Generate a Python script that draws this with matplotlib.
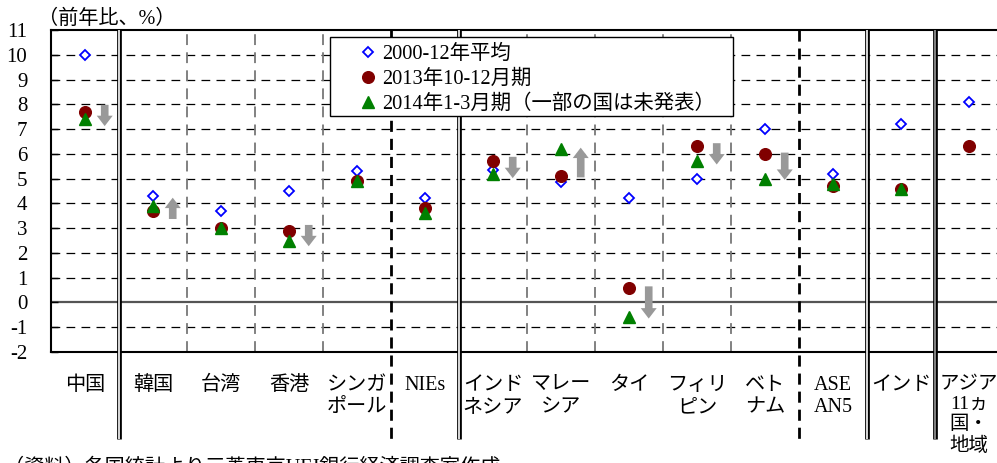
import matplotlib
matplotlib.use('Agg')
import matplotlib.pyplot as plt
from matplotlib.patches import Rectangle
import numpy as np

plt.rcParams['font.family'] = ['Liberation Serif', 'Noto Sans CJK JP']
plt.rcParams['axes.unicode_minus'] = False

categories = ['中国', '韓国', '台湾', '香港', 'シンガ\nポール', 'NIEs',
              'インド\nネシア', 'マレー\nシア', 'タイ', 'フィリ\nピン',
              'ベト\nナム', 'ASE\nAN5', 'インド', 'アジア\n11ヵ\n国・\n地域']
avg_2000_12 = [10.0, 4.3, 3.7, 4.5, 5.3, 4.2, 5.35, 4.85, 4.2, 5.0, 7.0, 5.2, 7.2, 8.1]
q4_2013 = [7.7, 3.7, 3.0, 2.9, 4.9, 3.8, 5.7, 5.1, 0.6, 6.3, 6.0, 4.7, 4.6, 6.3]
q1_2014 = [7.4, 3.9, 3.0, 2.5, 4.9, 3.6, 5.2, 6.2, -0.6, 5.7, 5.0, 4.8, 4.6, np.nan]
arrow_dir = [-1, 1, 0, -1, 0, 0, -1, 1, -1, -1, -1, 0, 0, 0]
series_labels = ['2000-12年平均', '2013年10-12月期', '2014年1-3月期（一部の国は未発表）']
yticks = list(range(-2, 12))
# separator between category i and i+1
sep_style = ['double', 'gray', 'gray', 'gray', 'black', 'double', 'gray', 'gray',
             'gray', 'gray', 'black', 'double', 'double2']

W, H = 997, 463
fig = plt.figure(figsize=(W / 100, H / 100), dpi=100)
AX_L, AX_R, AX_T, AX_B = 51, 1003, 30, 352
ax = fig.add_axes([AX_L / W, 1 - AX_B / H, (AX_R - AX_L) / W, (AX_B - AX_T) / H])
n = len(categories)
x = np.arange(n)
ax.set_xlim(-0.5, n - 0.5)
ax.set_ylim(-2, 11)
ax.set_yticks(yticks)
ax.set_yticklabels([str(t) for t in yticks], fontsize=15)
ax.tick_params(axis='y', direction='in', length=5, width=1, pad=17)
ax.set_xticks([])

for s in ['left', 'bottom', 'top']:
    ax.spines[s].set_linewidth(1.5)
    ax.spines[s].set_color('black')
ax.spines['right'].set_visible(False)

# horizontal grid
for t in yticks:
    if t == 0:
        ax.axhline(0, color='#555555', lw=1.6, zorder=1)
    elif t not in (-2, 11):
        ax.axhline(t, color='black', lw=0.9, ls=(0, (7, 5)), zorder=1)

# vertical separators
xt = ax.get_xaxis_transform()
low = -(445 - AX_B) / (AX_B - AX_T)
for i, st in enumerate(sep_style):
    b = i + 0.5
    if st == 'gray':
        ax.plot([b, b], [0, 1], transform=xt, color='#777777', lw=1.3,
                ls=(0, (6, 4)), zorder=1)
    elif st == 'black':
        ax.plot([b, b], [1, low], transform=xt, color='black', lw=2,
                ls=(0, (4, 2.5)), zorder=2, clip_on=False)
    else:
        inner = 'white' if st == 'double' else '#999999'
        ax.plot([b, b], [1, low + 0.02], transform=xt, color='black', lw=3.4,
                zorder=2, clip_on=False, solid_capstyle='butt')
        ax.plot([b, b], [1, low + 0.02], transform=xt, color=inner, lw=1.2,
                zorder=3, clip_on=False, solid_capstyle='butt')

# markers
h1, = ax.plot(x, avg_2000_12, ls='none', marker='D', ms=5.4, mfc='white', mec='#0000FF',
              mew=1.3, label=series_labels[0], zorder=5)
h2, = ax.plot(x, q4_2013, ls='none', marker='o', ms=8.4, color='#800000',
              label=series_labels[1], zorder=6)
h3, = ax.plot(x, q1_2014, ls='none', marker='^', ms=8.4, color='#008000',
              label=series_labels[2], zorder=7)

# arrows
for i, d in enumerate(arrow_dir):
    if d == 0:
        continue
    mid = (q4_2013[i] + q1_2014[i]) / 2
    half = max(0.43, abs(q1_2014[i] - q4_2013[i]) / 2 + 0.05)
    start = mid - d * half
    end = mid + d * half
    ax.annotate('', xy=(i + 0.29, end), xytext=(i + 0.29, start),
                arrowprops=dict(arrowstyle='simple,head_length=0.75,head_width=1.15,tail_width=0.55',
                                mutation_scale=10, color='#999999', shrinkA=0, shrinkB=0, lw=0),
                zorder=8)

# category labels
for i, c in enumerate(categories):
    fs = 14.5 if i < n - 1 else 14
    ax.text(i, -(376 - AX_B) / (AX_B - AX_T), c, transform=xt, ha='center', va='top',
            fontsize=fs, linespacing=1.22, clip_on=False)

# legend frame + legend
ax_w, ax_h = AX_R - AX_L, AX_B - AX_T
frame = Rectangle(((330 - AX_L) / ax_w, (AX_B - 116) / ax_h), 403 / ax_w, 79 / ax_h,
                  transform=ax.transAxes, facecolor='white', edgecolor='black',
                  lw=1.0, zorder=9)
ax.add_patch(frame)
leg = ax.legend(handles=[h1, h2, h3], loc='upper left',
                bbox_to_anchor=((358 - AX_L) / ax_w, (AX_B - 45) / ax_h),
                fontsize=14.7, frameon=False, handlelength=1.0,
                handletextpad=0.2, labelspacing=0.27, borderpad=0.0,
                borderaxespad=0)
leg.set_zorder(10)

fig.text(38 / W, 1 - 19 / H, '（前年比、%）', fontsize=14.5, va='center', ha='left')
fig.text(4 / W, 1 - 458 / H, '（資料）各国統計より三菱東京UFJ銀行経済調査室作成',
         fontsize=14.5, va='top', ha='left')

fig.savefig('out.png', dpi=100)
